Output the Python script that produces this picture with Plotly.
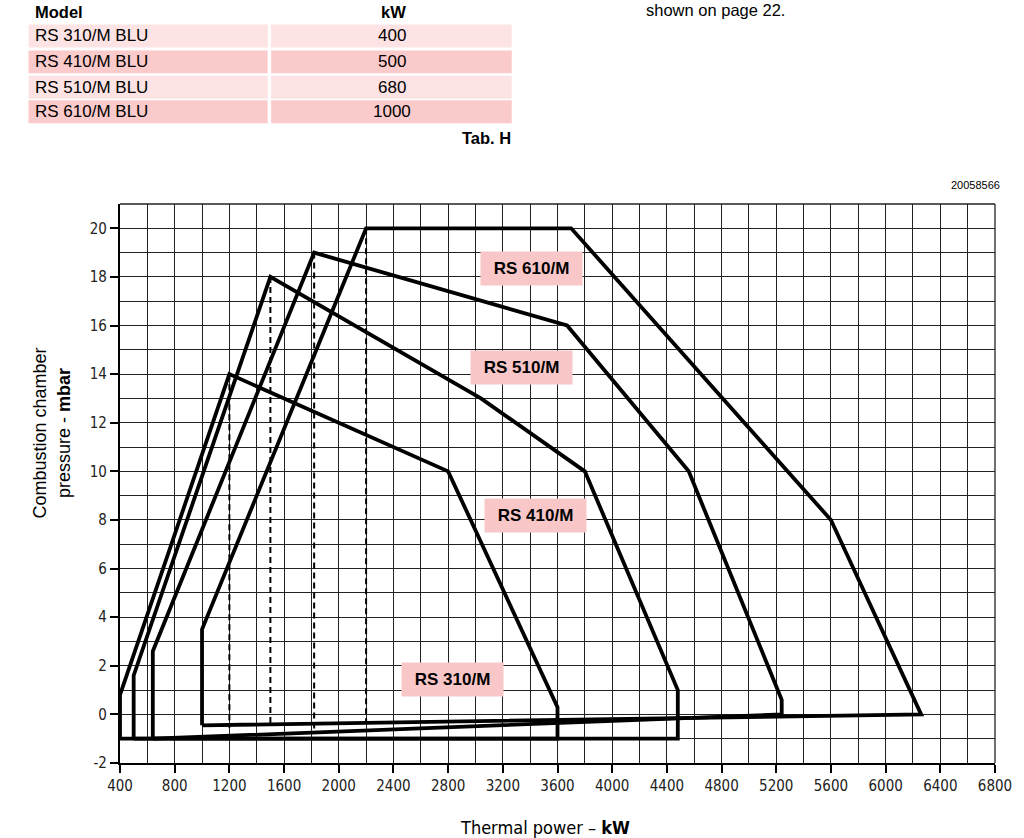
import plotly.graph_objects as go

# ---------------- data ----------------
model_names = ["RS 310/M BLU", "RS 410/M BLU", "RS 510/M BLU", "RS 610/M BLU"]
min_kw = [400, 500, 680, 1000]

series_names = ["RS 310/M", "RS 410/M", "RS 510/M", "RS 610/M"]
rs310_kw = [400, 400, 1200, 2800, 3600, 3600, 400]
rs310_mbar = [-1, 0.8, 14, 10, 0.3, -1, -1]
rs410_kw = [500, 500, 1500, 3040, 3800, 4480, 4480, 500]
rs410_mbar = [-1, 1.6, 18, 13, 10, 1, -1, -1]
rs510_kw = [640, 640, 1820, 3670, 4560, 5240, 5240, 640]
rs510_mbar = [-1, 2.6, 19, 16, 10, 0.6, 0, -1]
rs610_kw = [1000, 1000, 2200, 3700, 5600, 6260, 1000]
rs610_mbar = [-0.45, 3.5, 20, 20, 8, 0, -0.45]

peak_kw = [1200, 1500, 1820, 2200]
peak_mbar = [14, 18, 19, 20]
peak_base_mbar = [-0.55, -0.5, -0.7, -0.35]

label_kw = [2833, 3440, 3338, 3407]
label_mbar = [1.45, 8.18, 14.29, 18.34]

x_ticks = list(range(400, 6801, 400))
y_ticks = list(range(-2, 21, 2))

# ---------------- layout helpers ----------------
W, H = 1024, 838
L, R, T, B = 120, 1000, 203.7, 763


def px(x):
    return (x - L) / (R - L)


def py(y):
    return (B - y) / (B - T)


FONT = "Liberation Sans, Arial, Helvetica, sans-serif"
NARROW = "Liberation Sans Narrow, Arial Narrow, DejaVu Sans Condensed, sans-serif"

fig = go.Figure()

curves = [(rs310_kw, rs310_mbar), (rs410_kw, rs410_mbar),
          (rs510_kw, rs510_mbar), (rs610_kw, rs610_mbar)]
for name, (xs, ys) in zip(series_names, curves):
    fig.add_trace(go.Scatter(x=xs, y=ys, mode="lines", name=name,
                             line=dict(color="black", width=3.8),
                             hoverinfo="skip", showlegend=False))

for k, top, base in zip(peak_kw, peak_mbar, peak_base_mbar):
    fig.add_trace(go.Scatter(x=[k, k], y=[top, base], mode="lines",
                             line=dict(color="black", width=2, dash="6px,4px"),
                             hoverinfo="skip", showlegend=False))

annotations = []
for name, xk, ym in zip(series_names, label_kw, label_mbar):
    annotations.append(dict(x=xk, y=ym, xref="x", yref="y", text="<b>%s</b>" % name,
                            showarrow=False, bgcolor="#f9c7c7", width=99, height=31,
                            font=dict(family=FONT, size=17, color="black")))

shapes = []
# table rows
row_tops = [24, 50, 75.5, 100]
row_h = 23
row_colors = ["#fde3e3", "#fbcaca", "#fde3e3", "#fbcaca"]
for top, col in zip(row_tops, row_colors):
    for x0, x1 in [(28, 268.5), (272, 514)]:
        shapes.append(dict(type="rect", xref="paper", yref="paper",
                           x0=px(x0), x1=px(x1), y0=py(top + row_h), y1=py(top),
                           fillcolor=col, line=dict(width=0), layer="below"))
for i, (m, k) in enumerate(zip(model_names, min_kw)):
    yc = row_tops[i] + row_h / 2
    annotations.append(dict(x=px(32), y=py(yc), xref="paper", yref="paper", text=m,
                            xanchor="left", yanchor="middle", showarrow=False,
                            font=dict(family=FONT, size=17, color="black")))
    annotations.append(dict(x=px(394), y=py(yc), xref="paper", yref="paper", text=str(k),
                            xanchor="center", yanchor="middle", showarrow=False,
                            font=dict(family=FONT, size=17, color="black")))
annotations += [
    dict(x=px(32), y=py(12), xref="paper", yref="paper", text="<b>Model</b>",
         xanchor="left", yanchor="middle", showarrow=False,
         font=dict(family=FONT, size=16.5, color="black")),
    dict(x=px(395), y=py(12), xref="paper", yref="paper", text="<b>kW</b>",
         xanchor="center", yanchor="middle", showarrow=False,
         font=dict(family=FONT, size=16.5, color="black")),
    dict(x=px(515), y=py(138), xref="paper", yref="paper", text="<b>Tab. H</b>",
         xanchor="right", yanchor="middle", showarrow=False,
         font=dict(family=FONT, size=16.5, color="black")),
    dict(x=px(647), y=py(10), xref="paper", yref="paper", text="shown on page 22.",
         xanchor="left", yanchor="middle", showarrow=False,
         font=dict(family=FONT, size=16.5, color="black")),
    dict(x=px(1007), y=py(185), xref="paper", yref="paper", text="20058566",
         xanchor="right", yanchor="middle", showarrow=False,
         font=dict(family=FONT, size=11, color="black")),
    dict(x=px(51), y=py(433), xref="paper", yref="paper",
         text="Combustion chamber<br>pressure - <b>mbar</b>", textangle=-90,
         xanchor="center", yanchor="middle", showarrow=False,
         font=dict(family=FONT, size=18, color="black")),
    dict(x=px(547), y=py(828), xref="paper", yref="paper",
         text="Thermal power – <b>kW</b>",
         xanchor="center", yanchor="middle", showarrow=False,
         font=dict(family=NARROW, size=18, color="black")),
]

# plot frame (top / right)
shapes.append(dict(type="line", xref="paper", yref="paper", x0=0, x1=1, y0=1, y1=1,
                   line=dict(color="#222", width=1.3), layer="below"))
shapes.append(dict(type="line", xref="paper", yref="paper", x0=1, x1=1, y0=0, y1=1,
                   line=dict(color="#222", width=1.3), layer="below"))

grid_col = "#222"
fig.update_layout(
    width=W, height=H,
    margin=dict(l=L, r=W - R, t=T, b=H - B, pad=0),
    paper_bgcolor="white", plot_bgcolor="white",
    showlegend=False,
    shapes=shapes, annotations=annotations,
    xaxis=dict(range=[400, 6800], tickvals=x_ticks, ticktext=[str(v) for v in x_ticks],
               showgrid=True, gridcolor=grid_col, gridwidth=1.2,
               minor=dict(dtick=200, tick0=400, showgrid=True, gridcolor=grid_col, gridwidth=1.2),
               showline=True, linecolor="black", linewidth=2.2,
               ticks="outside", ticklen=8, tickwidth=1.5, tickcolor="black",
               tickfont=dict(family=NARROW, size=15, color="#222"),
               zeroline=False, fixedrange=True),
    yaxis=dict(range=[-2, 21], tickvals=y_ticks, ticktext=[str(v) for v in y_ticks],
               showgrid=True, gridcolor=grid_col, gridwidth=1.2,
               minor=dict(dtick=1, tick0=-2, showgrid=True, gridcolor=grid_col, gridwidth=1.2),
               showline=True, linecolor="black", linewidth=2.2,
               ticks="outside", ticklen=8, tickwidth=1.5, tickcolor="black",
               tickfont=dict(family=NARROW, size=15, color="#222"),
               zeroline=False, fixedrange=True),
)

fig.write_html("out.html")
